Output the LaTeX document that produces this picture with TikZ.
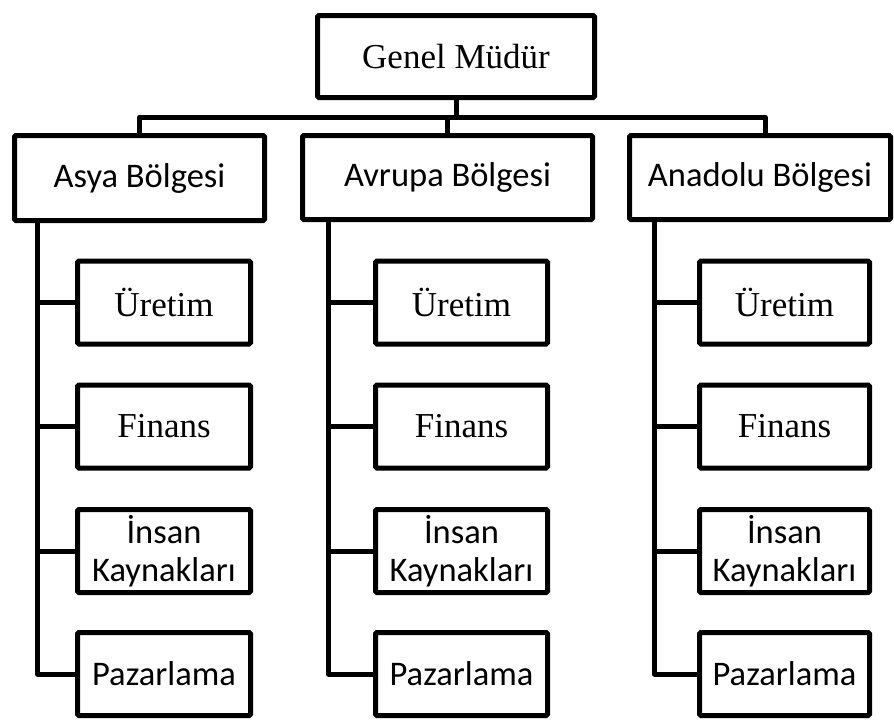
\documentclass[tikz,border=0pt]{standalone}
\usepackage{fontspec}
\setmainfont{Liberation Serif}
\newfontfamily\calfont{Carlito}
\begin{document}
\begin{tikzpicture}[x=1pt,y=-1pt,
  box/.style={draw=black, line width=5pt, rounded corners=1.5pt, fill=white,
              inner sep=0pt, align=center, text=black},
  serifbox/.style={box, font=\fontsize{35}{40}\selectfont},
  sansbox/.style={box, font=\calfont\fontsize{34.5}{38}\selectfont},
  unitbox/.style={minimum height=83pt},
  link/.style={draw=black, line width=5pt, line join=round}]
\useasboundingbox (0,0) rectangle (894,720);

% top level
\node[serifbox, minimum width=277pt, minimum height=82pt] (gm) at (456,56.5) {Genel Müdür};

% regions
\node[sansbox, minimum width=250pt, minimum height=85pt] (asya) at (139.5,178) {Asya Bölgesi};
\node[sansbox, minimum width=290pt, minimum height=84pt] (avr)  at (447.5,177.5) {Avrupa Bölgesi};
\node[sansbox, minimum width=261pt, minimum height=84pt] (ana)  at (760,177.5) {Anadolu Bölgesi};

% departments of each region
\foreach \c/\x/\w in {a/164/173, b/461.5/172, c/784.5/170}{
  \node[serifbox, unitbox, minimum width=\w pt] (\c U) at (\x,302.5) {Üretim};
  \node[serifbox, unitbox, minimum width=\w pt] (\c F) at (\x,426.5) {Finans};
  \node[sansbox,  unitbox, minimum width=\w pt] (\c I) at (\x,551) {İnsan\\Kaynakları};
  \node[sansbox,  unitbox, minimum width=\w pt] (\c P) at (\x,674) {Pazarlama};
}

% bus from the general manager to the regions
\coordinate (bus) at (456,117);
\draw[link] (gm.south) -- (bus);
\draw[link] (asya.north) -- (asya.north |- bus) -- ([xshift=5pt]ana.north |- bus) -- ([xshift=5pt]ana.north);
\draw[link] (avr.north) -- (avr.north |- bus);

% trunks from each region to its departments
\coordinate (aT) at ([xshift=25.5pt]asya.south west);
\coordinate (bT) at ([xshift=28.5pt]avr.south west);
\coordinate (cT) at ([xshift=27.5pt]ana.south west);
\foreach \c in {a,b,c}{
  \draw[link] (\c T) |- (\c P.west);
  \foreach \d in {U,F,I}{
    \draw[link] (\c T |- \c\d.west) -- (\c\d.west);
  }
}
\end{tikzpicture}
\end{document}
